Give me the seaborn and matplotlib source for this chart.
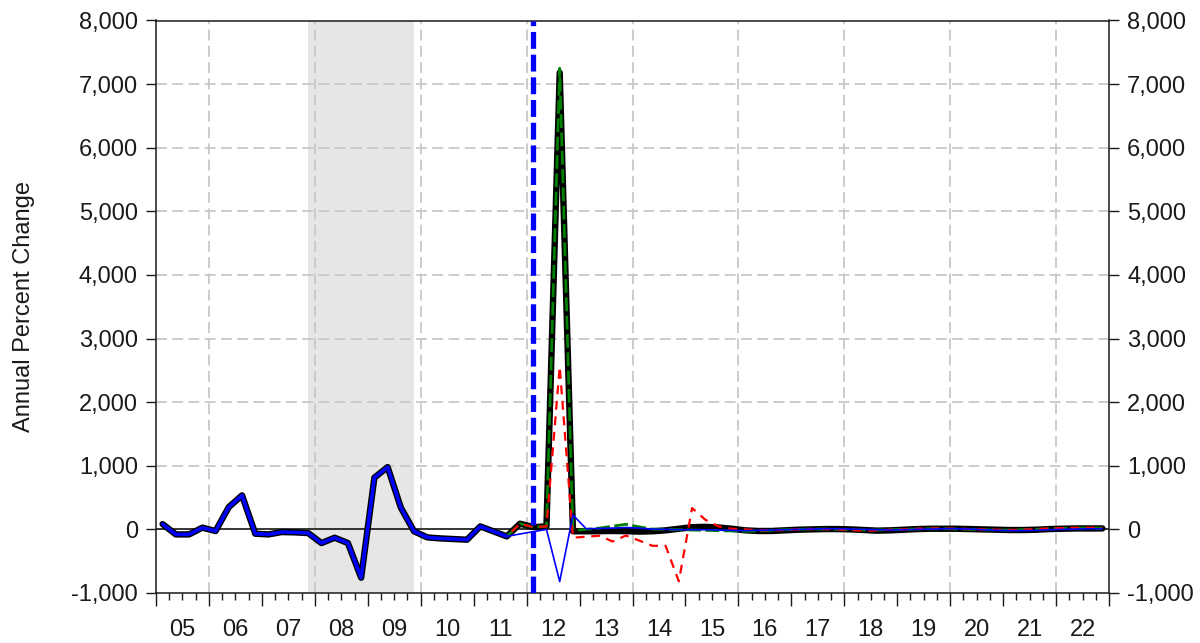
import numpy as np
import pandas as pd
import matplotlib
matplotlib.use("Agg")
import matplotlib.pyplot as plt
from matplotlib.ticker import FuncFormatter
import seaborn as sns

# ---------------- data (annual percent change, quarterly 2005Q1-2022Q4) -------------
first_quarter = "2005Q1"
last_quarter = "2022Q4"

# common history 2005Q1 - 2011Q3
history = [83, -79, -79, 27,
           -26, 351, 535, -68,
           -79, -42, -47, -58,
           -215, -131, -215, -760,
           813, 980, 341, -31,
           -126, -142, -152, -162,
           47, -31, -110]

# shared by black / green / red : 2011Q4 - 2012Q2
shared_tail = [90, 36, 47]

# 2012Q3 - 2022Q4
black_fc = [7180, -30,
            -30, -28, -25, -28,
            -35, -30, -15, 10,
            35, 40, 30, 10,
            -15, -25, -25, -15,
            -5, 0, 5, 5,
            0, -10, -20, -15,
            -5, 5, 10, 10,
            10, 5, 0, -5,
            -10, -10, -5, 5,
            10, 15, 15, 15]

green_fc = [7250, -20,
            0, 20, 50, 80,
            40, 5, 0, -5,
            -10, -15, -20, -25,
            -30, -25, -15, -5,
            0, 5, 5, 0,
            -5, -10, -10, -5,
            0, 5, 10, 10,
            5, 0, -5, -10,
            -10, -5, 0, 10,
            15, 20, 20, 20]

red_fc = [2560, -131,
          -115, -100, -190, -97,
          -175, -258, -258, -815,
          335, 152, 47, 10,
          0, -10, -15, -10,
          0, 5, 5, 0,
          -10, -20, -15, -5,
          0, 10, 15, 15,
          10, 5, 0, -5,
          -10, -5, 5, 15,
          20, 25, 25, 25]

# 2011Q4 - 2022Q4
blue_fc = [-72, -36, 0, -820, 226,
           10, 15, 20, 30,
           20, 5, 0, -5,
           -5, -5, -10, -15,
           -20, -15, -10, -5,
           0, 5, 10, 10,
           5, 0, -5, -10,
           -5, 0, 5, 10,
           10, 5, -5, -15,
           -20, -20, -15, -5,
           0, 5, 10, 10]

recession = ("2007Q4", "2009Q4")
forecast_start = "2012Q1"
year_labels = ["05", "06", "07", "08", "09", "10", "11", "12", "13",
               "14", "15", "16", "17", "18", "19", "20", "21", "22"]
y_ticks = [-1000, 0, 1000, 2000, 3000, 4000, 5000, 6000, 7000, 8000]
y_label = "Annual Percent Change"

# ---------------- build frame ----------------
periods = pd.period_range(first_quarter, last_quarter, freq="Q")
def qpos(p):
    p = pd.Period(p, freq="Q")
    return p.year + (p.quarter - 0.5) / 4.0

xq = np.array([qpos(p) for p in periods])
n_hist = len(history)
df = pd.DataFrame({
    "t": xq,
    "black": history + shared_tail + black_fc,
    "green": history + shared_tail + green_fc,
    "red": history + shared_tail + red_fc,
    "blue": history + blue_fc,
})

# ---------------- style ----------------
sns.set_style("white")
plt.rcParams["font.family"] = ["Liberation Sans", "DejaVu Sans"]
FS = 17
TXT = "#1a1a1a"

fig = plt.figure(figsize=(12, 6.43), dpi=100)
ax = fig.add_axes([156 / 1200, 50 / 643, 953 / 1200, 572.5 / 643])

x0 = int(first_quarter[:4])
x1 = int(last_quarter[:4]) + 1
ax.set_xlim(x0, x1)
ax.set_ylim(min(y_ticks), max(y_ticks))

# recession shading
ax.axvspan(qpos(recession[0]), qpos(recession[1]), color="#e6e6e6", zorder=0, lw=0)

# grid lines
for yv in y_ticks[1:-1]:
    if yv != 0:
        ax.axhline(yv, color="#c8c8c8", lw=1.3, ls=(0, (6, 3)), zorder=1)
for xv in range(x0 + 1, x1, 2):
    ax.axvline(xv, color="#c8c8c8", lw=1.3, ls=(0, (6, 3)), zorder=1)
ax.axhline(0, color="black", lw=1.1, zorder=2)

# series
sns.lineplot(data=df, x="t", y="black", ax=ax, color="black", lw=4.6,
             errorbar=None, sort=False, zorder=3)
sns.lineplot(data=df, x="t", y="green", ax=ax, color="#008000", lw=2.0,
             linestyle=(0, (5, 1.6)), errorbar=None, sort=False, zorder=4)
sns.lineplot(data=df, x="t", y="red", ax=ax, color="#ff0000", lw=1.6,
             linestyle=(0, (4, 3)), errorbar=None, sort=False, zorder=5)
df_fc = df.iloc[n_hist - 1:]
sns.lineplot(data=df_fc, x="t", y="blue", ax=ax, color="#0000ff", lw=1.2,
             errorbar=None, sort=False, zorder=6)
df_hist = df.iloc[:n_hist]
sns.lineplot(data=df_hist, x="t", y="blue", ax=ax, color="#0000ff", lw=2.6,
             errorbar=None, sort=False, zorder=6)

# forecast start marker
ax.axvline(qpos(forecast_start), color="#0000ff", lw=3.8, ls=(0, (3.2, 1.1)), zorder=7)

# ---------------- axes ----------------
ax.set_yticks(y_ticks)
ax.yaxis.set_major_formatter(FuncFormatter(lambda v, p: f"{v:,.0f}".replace("\u2212", "-")))
ax.tick_params(axis="y", which="major", direction="out", length=7, width=1,
               left=True, right=True, labelleft=True, labelright=True,
               labelsize=FS, pad=6, colors=TXT)

ax.set_xticks(list(range(x0, x1 + 1)))
ax.set_xticklabels([""] * (x1 - x0 + 1))
minor_pos, minor_lab = [], []
for i, yr in enumerate(range(x0, x1)):
    for f in (0.25, 0.5, 0.75):
        minor_pos.append(yr + f)
        minor_lab.append(year_labels[i] if f == 0.5 else "")
ax.set_xticks(minor_pos, minor=True)
ax.set_xticklabels(minor_lab, minor=True)
ax.tick_params(axis="x", which="major", direction="out", length=9, width=1,
               bottom=True, color=TXT)
ax.tick_params(axis="x", which="minor", direction="out", length=5, width=1,
               bottom=True, labelsize=FS, pad=14, color=TXT, labelcolor=TXT)

ax.set_xlabel("")
ax.set_ylabel(y_label, fontsize=FS, color=TXT)
ax.yaxis.set_label_coords(-0.127, 0.5)

for s in ax.spines.values():
    s.set_visible(True)
    s.set_color(TXT)
    s.set_linewidth(1.1)

fig.savefig("out.png", dpi=100)
